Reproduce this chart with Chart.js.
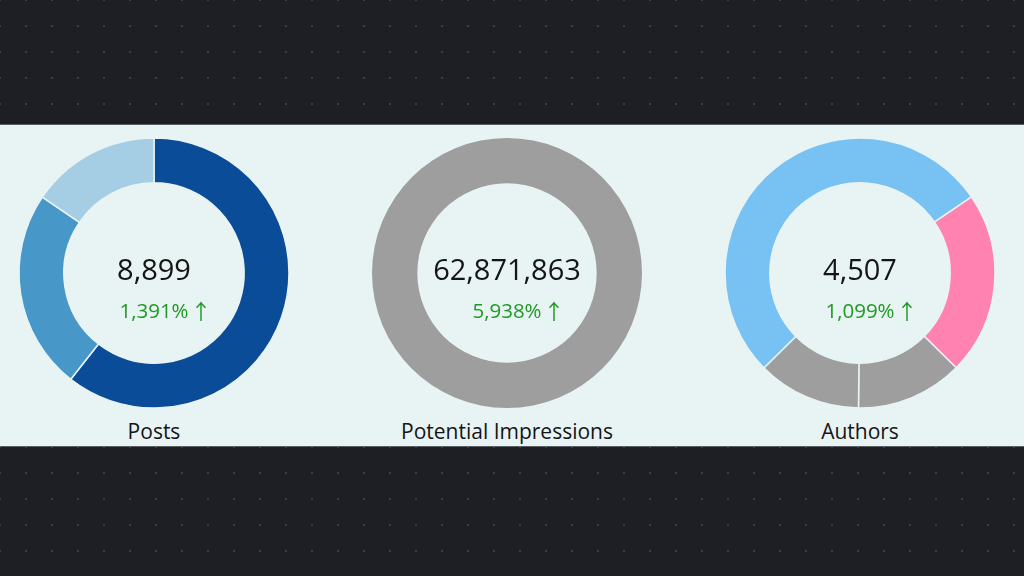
<!DOCTYPE html>
<html>
<head>
<meta charset="utf-8">
<script src="https://cdn.jsdelivr.net/npm/chart.js@4.4.1/dist/chart.umd.min.js"></script>
<style>
  html, body { margin:0; padding:0; width:1024px; height:576px; overflow:hidden; font-family:"Open Sans","Noto Sans",sans-serif; }
  .dark { position:absolute; left:0; width:1024px; background-color:#1d1f24;
    background-image: radial-gradient(circle, #3b3e44 0.9px, rgba(0,0,0,0) 1.4px);
    background-size:26px 26px; background-position:13px 13px; }
  #top { top:0; height:124px; }
  #bottom { top:447px; height:129px; }
  #panel { position:absolute; left:0; top:124px; width:1024px; height:323px; background:#e8f4f4;
    box-shadow: inset 0 1px 0 #5a5e63, inset 0 -1px 0 #5a5e63; }
  .cell { position:absolute; top:0; width:280px; height:323px; }
  .cell canvas { position:absolute; left:0; top:8.5px; }
  .num { position:absolute; left:0; width:280px; top:127px; text-align:center; font-size:29px; color:#151515; line-height:36px; }
  .pct { position:absolute; left:0; width:280px; top:173px; text-align:center; font-size:20.5px; color:#1f9a22; line-height:26px; }
  .pct .t { position:relative; display:inline-block; }
  .pct .a { position:absolute; left:100%; top:0px; margin-left:2px; font-family:"Noto Sans CJK SC",sans-serif; font-size:21px; line-height:26px; white-space:nowrap; }
  .lbl { position:absolute; left:-40px; width:360px; top:293px; text-align:center; font-size:21px; color:#151515; line-height:28px; }
</style>
</head>
<body>
<div id="top" class="dark"></div>
<div id="panel">
  <div class="cell" style="left:14px"><canvas id="c0" width="280" height="280"></canvas><div class="num" id="n0"></div><div class="pct"><span class="t"><span id="p0"></span><span class="a">↑</span></span></div><div class="lbl" id="l0"></div></div>
  <div class="cell" style="left:367px"><canvas id="c1" width="280" height="280"></canvas><div class="num" id="n1"></div><div class="pct"><span class="t"><span id="p1"></span><span class="a">↑</span></span></div><div class="lbl" id="l1"></div></div>
  <div class="cell" style="left:720px"><canvas id="c2" width="280" height="280"></canvas><div class="num" id="n2"></div><div class="pct"><span class="t"><span id="p2"></span><span class="a">↑</span></span></div><div class="lbl" id="l2"></div></div>
</div>
<div id="bottom" class="dark"></div>
<script>
// ---- data ----
const chartTitles = ["Posts", "Potential Impressions", "Authors"];
const totals = ["8,899", "62,871,863", "4,507"];
const changes = ["1,391%", "5,938%", "1,099%"];

const postsLabels = ["Segment A", "Segment B", "Segment C"];
const postsValues = [5390, 2130, 1379];
const postsColors = ["#0a4c98", "#4797c9", "#a5cde3"];

const impressionsLabels = ["Impressions"];
const impressionsValues = [62871863];
const impressionsColors = ["#9e9e9e"];

const authorsLabels = ["Segment A", "Segment B", "Segment C", "Segment D"];
const authorsValues = [2384, 987, 577, 559];
const authorsColors = ["#78c1f3", "#ff82b1", "#9e9e9e", "#9e9e9e"];

// ---- render ----
const specs = [
  { labels: postsLabels, values: postsValues, colors: postsColors, rotation: 0, border: 1.5 },
  { labels: impressionsLabels, values: impressionsValues, colors: impressionsColors, rotation: 0, border: 0 },
  { labels: authorsLabels, values: authorsValues, colors: authorsColors, rotation: 225.3, border: 1.5 }
];

specs.forEach((s, i) => {
  document.getElementById("n" + i).textContent = totals[i];
  document.getElementById("p" + i).textContent = changes[i];
  document.getElementById("l" + i).textContent = chartTitles[i];
  new Chart(document.getElementById("c" + i), {
    type: "doughnut",
    data: {
      labels: s.labels,
      datasets: [{
        data: s.values,
        backgroundColor: s.colors,
        borderColor: "#e8f4f4",
        borderWidth: s.border,
        hoverOffset: 0
      }]
    },
    options: {
      responsive: false,
      animation: false,
      events: [],
      rotation: s.rotation,
      radius: 135,
      cutout: 93,
      layout: { padding: 0 },
      plugins: { legend: { display: false }, tooltip: { enabled: false } }
    }
  });
});
</script>
</body>
</html>
